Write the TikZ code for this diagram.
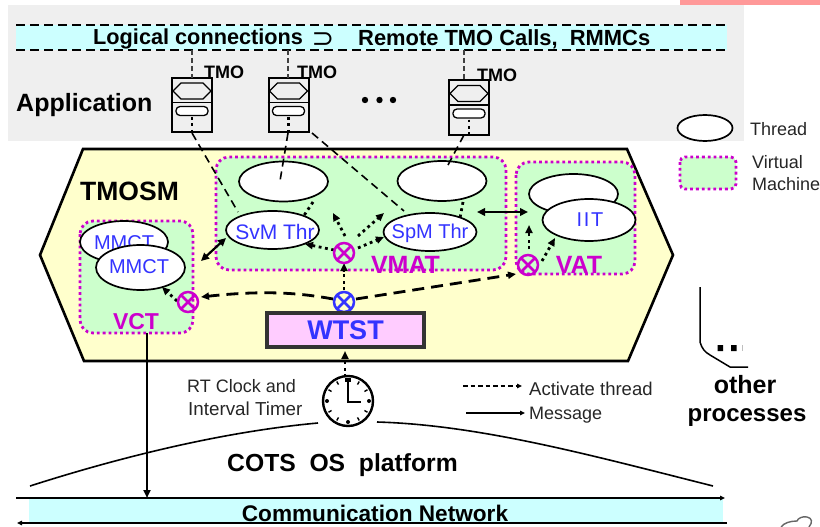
\documentclass[tikz,border=0pt]{standalone}
\usepackage{fontspec}
\setmainfont{Liberation Sans}
\newfontfamily\djv{DejaVu Sans}
\usetikzlibrary{arrows.meta}
\definecolor{grayb}{HTML}{EFEFEF}
\definecolor{cyanb}{HTML}{CCFFFF}
\definecolor{yell}{HTML}{FFFFCC}
\definecolor{greenb}{HTML}{CCFFCC}
\definecolor{mag}{HTML}{CC00CC}
\definecolor{blu}{HTML}{3333FF}
\definecolor{pinkb}{HTML}{FFCCFF}
\definecolor{salmon}{HTML}{FF9999}
\tikzset{
 x=1pt,y=-1pt,
 tip/.style={-{Triangle[length=8pt,width=7pt]}},
 smalltip/.style={-{Triangle[length=5pt,width=4.5pt]}},
 vm/.style={draw=mag,line width=2.8pt,dash pattern=on 2.8pt off 3pt,fill=greenb,rounded corners=13pt},
 bt/.style={font=\fontsize{25}{27}\selectfont\bfseries,inner sep=0pt,anchor=west},
 lbl/.style={font=\fontsize{18}{20}\selectfont,inner sep=0pt,anchor=west,text=black!85},
 thrtext/.style={font=\fontsize{20}{22}\selectfont,text=blu,inner sep=0pt},
 vmlabel/.style={font=\fontsize{25}{27}\selectfont\bfseries,text=mag,inner sep=0pt},
 tmolabel/.style={font=\fontsize{18}{20}\selectfont\bfseries,inner sep=0pt},
 dotarrow/.style={line width=2.8pt,dash pattern=on 2.8pt off 3.6pt,tip},
 dotline/.style={line width=2.8pt,dash pattern=on 2.8pt off 3.6pt},
 thindash/.style={line width=1.6pt,dash pattern=on 8pt off 5pt},
 thickdash/.style={line width=2.8pt,dash pattern=on 12pt off 7pt,tip},
 solidarrow/.style={line width=2.2pt,{Triangle[length=8pt,width=7.5pt]}-{Triangle[length=8pt,width=7.5pt]}},
}
\newcommand{\tmobox}[3]{%
 \coordinate (#1) at (#2,#3);
 \draw[line width=2pt,fill=grayb] (#2-20,#3) rectangle (#2+20,#3+54);
 \draw[line width=1.3pt,fill=grayb] (#2-19,#3+13) -- (#2-11,#3+5) -- (#2+11,#3+5) -- (#2+19,#3+13) -- (#2+11,#3+21) -- (#2-11,#3+21) -- cycle;
 \draw[line width=1.2pt] (#2-21,#3+24.5) -- (#2+21,#3+24.5);
 \draw[line width=1.3pt,rounded corners=4pt,fill=white] (#2-16,#3+28.5) rectangle (#2+16,#3+37.5);
 \draw[dotline] (#2,#3+39) -- (#2,#3+54);
}
\newcommand{\xcirc}[4]{%
 \node[circle,draw=#4,line width=2.5pt,fill=none,minimum size=20pt,inner sep=0pt] (#1) at (#2,#3) {};
 \draw[#4,line width=2.5pt] (#2-6.5,#3-6.5) -- (#2+6.5,#3+6.5) (#2-6.5,#3+6.5) -- (#2+6.5,#3-6.5);
}
\begin{document}
\begin{tikzpicture}
\useasboundingbox (0,0) rectangle (820,527);
% backgrounds
\fill[salmon] (680,0) rectangle (820,5);
\fill[grayb] (8,5) rectangle (744,141);
\fill[cyanb] (16,25) rectangle (727,50);
\draw[line width=1.6pt,dash pattern=on 9pt off 5pt] (16,25) -- (725,25) (16,50) -- (725,50);
\node[font=\fontsize{21.7}{24}\selectfont\bfseries,inner sep=0pt,anchor=west] (logical) at (93,39) {Logical connections};
\node[font=\fontsize{27}{29}\selectfont\djv,inner sep=0pt] (supset) at (323,40) {⊃};
\node[font=\fontsize{21.9}{24}\selectfont\bfseries,inner sep=0pt,anchor=west] (remote) at (358,39) {Remote TMO Calls,\ \ RMMCs};
% hexagon
\draw[line width=2.6pt,fill=yell] (83,149) -- (627,149) -- (673,255) -- (628,361) -- (84,361) -- (40,255) -- cycle;
% VMs
\draw[vm] (80,221) rectangle (193,333);
\draw[vm] (216,157) rectangle (506,270);
\draw[vm] (516,162) rectangle (635,274);
% TMOs
\tmobox{tmoa}{192}{78}
\tmobox{tmob}{288.5}{78}
\tmobox{tmoc}{469}{80.5}
\coordinate (la) at (192,50);
\coordinate (lb) at (288,50);
\coordinate (lc) at (464,50);
\draw[line width=1.3pt,dash pattern=on 5pt off 3pt,black!75] (la) -- (tmoa) (lb) -- (288,78) (lc) -- (464,80.5);
\node[tmolabel,anchor=west] (tmol1) at (204,72) {TMO};
\node[tmolabel,anchor=west] (tmol2) at (297,72) {TMO};
\node[tmolabel,anchor=west] (tmol3) at (477,75) {TMO};
\node[bt] (app) at (16,105) {Application};
\fill (365,100) circle (3.2pt) (379.5,100) circle (3.2pt) (393,100) circle (3.2pt);
\node[font=\fontsize{26.5}{28}\selectfont\bfseries,inner sep=0pt,anchor=west] (tmosm) at (80,191) {TMOSM};
% threads
\draw[line width=1.7pt,fill=white] (283.5,181.5) ellipse (44.5 and 20);
\coordinate (e1) at (283.5,181.5);
\draw[line width=1.7pt,fill=white] (442,181) ellipse (44.5 and 20);
\coordinate (e2) at (442,181);
\draw[line width=1.7pt,fill=white] (272.5,230) ellipse (46.5 and 19);
\node[thrtext,font=\fontsize{21}{22}\selectfont] (svm) at (275,232) {SvM\ Thr};
\draw[line width=1.7pt,fill=white] (430,232) ellipse (46.5 and 19);
\node[thrtext] (spm) at (430,233) {SpM\ Thr};
\draw[line width=1.7pt,fill=white] (124,242) ellipse (44 and 21);
\node[thrtext] (mm1) at (124,243) {MMCT};
\draw[line width=1.7pt,fill=white] (140.5,267.5) ellipse (44.5 and 22.5);
\node[thrtext] (mm2) at (139,266.5) {MMCT};
\draw[line width=1.7pt,fill=white] (573.5,194) ellipse (44.5 and 20);
\draw[line width=1.7pt,fill=white] (589,220) ellipse (46.5 and 21);
\node[thrtext,font=\fontsize{20}{22}\selectfont\addfontfeature{LetterSpace=8}] (iit) at (590,220) {IIT};
% thin dashed
\draw[thindash] (192,133) -- (238,212);
\draw[thindash] (288,133) -- (280,181);
\draw[thindash] (312,133) -- (404,211);
\draw[thindash] (464,135) -- (448,165);
% dotted
\draw[dotline] (313,202) -- (303,217);
\draw[dotline] (463,202) -- (460,218);
\draw[dotarrow] (334,250) -- (305,244);
\draw[dotarrow] (345,236) -- (333,213);
\draw[dotarrow] (358,236) -- (384,213);
\draw[dotarrow] (358,248) -- (384,237);
\draw[dotarrow] (344,290) -- (344,263);
\draw[dotarrow] (177,301) -- (162,287);
\draw[dotarrow] (529,249) -- (529,225);
\draw[dotarrow] (542,261) -- (555,238);
% solid double
\draw[solidarrow] (226,238) -- (201,261);
\draw[solidarrow] (477,212) -- (528,212);
% labels in VM
\node[vmlabel,font=\fontsize{23}{25}\selectfont\bfseries] (vct) at (136,322) {VCT};
\node[vmlabel] (vmat) at (405.5,265) {VMAT};
\node[vmlabel] (vat) at (579,265) {VAT};
% X circles
\xcirc{xa}{188}{302}{mag}
\xcirc{xb}{344}{253}{mag}
\xcirc{xc}{528}{265}{mag}
\xcirc{xd}{344}{302}{blu}
% thick dashed
\draw[thickdash] (333,299) .. controls (300,293) and (265,290) .. (201,297);
\draw[thickdash] (356,299) -- (516,274);
% WTST
\node[draw=black!80,line width=4.2pt,fill=pinkb,minimum width=157pt,minimum height=34pt,inner sep=0pt,text=blu,font=\fontsize{27}{29}\selectfont\bfseries] (wtst) at (345.5,330) {WTST};
% clock
\draw[line width=2.4pt,fill=white] (348,401) circle (25);
\coordinate (clocktop) at (345,376);
\draw[dotarrow] (345,377) -- (345,351);
\draw[line width=1.8pt] (348,381) -- (348,402) -- (361,402);
\fill (345,378) rectangle (351,382);
\foreach \a in {0,90,180}{\fill (348,401) ++(\a:21) circle (2pt);}
\foreach \a in {30,60,120,150,210,240,300,330}{\draw[line width=1.4pt] (348,401) ++(\a:19) -- ++(\a:3.5);}
\node[lbl] (rt1) at (187,386) {RT Clock and};
\node[lbl,font=\fontsize{18.8}{20}\selectfont] (rt2) at (188,409) {Interval Timer};
\node[font=\fontsize{24.7}{26}\selectfont\bfseries,inner sep=0pt,anchor=west] (cots) at (227,465) {COTS\ \ OS\ \ platform};
% arcs
\draw[line width=1.6pt] (30,486) .. controls (130,454) and (230,431) .. (318,423);
\draw[line width=1.6pt] (377,422) .. controls (480,425) and (590,455) .. (713,486);
% network
\fill[cyanb] (29,498) rectangle (723,523);
\draw[line width=1.6pt,smalltip] (16,498) -- (725,498);
\draw[line width=1.6pt,smalltip] (727,523) -- (17,523);
\draw[line width=2.2pt,tip] (147,333) -- (147,498);
\node[font=\fontsize{22.6}{24}\selectfont\bfseries,inner sep=0pt] (net) at (375,513) {Communication Network};
% legend
\draw[line width=1.7pt,fill=white] (705,128) ellipse (27.5 and 13);
\node[lbl] (ltr) at (750,129) {Thread};
\draw[vm,rounded corners=5pt] (680,157) rectangle (736,189);
\node[lbl] (lv1) at (752,162) {Virtual};
\node[lbl] (lv2) at (752,184) {Machine};
\draw[line width=1.1pt,dash pattern=on 4.5pt off 3pt,smalltip] (463,386) -- (522,386);
\node[lbl,font=\fontsize{18.5}{20}\selectfont] (lat) at (529,389) {Activate thread};
\draw[line width=1.1pt,smalltip] (466,413) -- (525,413);
\node[lbl] (lms) at (529,415) {Message};
% other processes
\draw[line width=1.5pt] (700,287) -- (700,342) .. controls (702,349) and (705,352) .. (710,355) -- (730,367) -- (748,367);
\fill (717.5,345) rectangle (723,351) (731,345) rectangle (736.5,351);
\fill[black!25] (742,345) rectangle (743,351);
\node[font=\fontsize{25}{27}\selectfont\bfseries,inner sep=0pt] (oth) at (745,385) {other};
\node[font=\fontsize{24}{26}\selectfont\bfseries,inner sep=0pt] (pro) at (747,418) {processes};
% corner sketch
\draw[black!60,line width=1.4pt] (781,527) .. controls (784,523) and (790,521) .. (797,521) .. controls (798,518) and (803,516) .. (807,517) .. controls (812,518) and (813,522) .. (809,527);
\end{tikzpicture}
\end{document}
